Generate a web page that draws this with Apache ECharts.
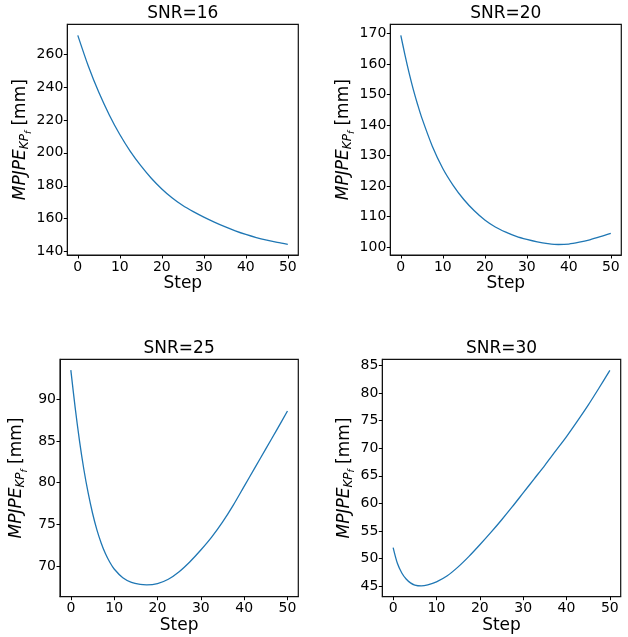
<!DOCTYPE html>
<html><head><meta charset="utf-8">
<script src="https://cdn.jsdelivr.net/npm/echarts@6/dist/echarts.min.js"></script>
<style>html,body{margin:0;padding:0;background:#fff}#c{width:628px;height:637px}</style>
</head><body><div id="c"></div>
<script>
// ---- data ----
const titles = ['SNR=16', 'SNR=20', 'SNR=25', 'SNR=30'];
const xTicks = [0, 10, 20, 30, 40, 50];

const steps16 = [0, 2.5, 5, 7.5, 10, 12.5, 15, 17.5, 20, 22.5, 25, 27.5, 30, 32.5, 35, 37.5, 40, 42.5, 45, 47.5, 50];
const mpjpe16 = [271.3, 252.7, 236.7, 223.0, 211.1, 200.9, 192.2, 184.6, 178.1, 172.6, 168.0, 164.3, 161.0, 158.0, 155.2, 152.7, 150.5, 148.6, 147.0, 145.6, 144.5];
const yTicks16 = [140, 160, 180, 200, 220, 240, 260];

const steps20 = [0, 1, 2, 3, 4, 5, 7.5, 10, 12.5, 15, 17.5, 20, 22.5, 25, 27.5, 30, 32.5, 35, 37.5, 40, 42.5, 45, 47.5, 50];
const mpjpe20 = [169.5, 163.0, 157.0, 151.6, 146.8, 142.4, 133.1, 125.8, 120.2, 115.6, 111.9, 108.9, 106.6, 104.9, 103.5, 102.5, 101.7, 101.15, 100.85, 101.0, 101.6, 102.4, 103.4, 104.5];
const yTicks20 = [100, 110, 120, 130, 140, 150, 160, 170];

const steps25 = [0, 1, 2, 3, 4, 5, 6, 7, 8, 9, 10, 12, 14, 16, 17.5, 20, 22.5, 25, 27.5, 30, 32.5, 35, 37.5, 40, 42.5, 45, 47.5, 50];
const mpjpe25 = [93.5, 89.0, 85.0, 81.6, 78.75, 76.35, 74.35, 72.75, 71.45, 70.43, 69.63, 68.58, 68.02, 67.78, 67.73, 67.88, 68.4, 69.3, 70.5, 71.9, 73.45, 75.25, 77.3, 79.55, 81.8, 84.05, 86.3, 88.6];
const yTicks25 = [70, 75, 80, 85, 90];

const steps30 = [0, 1, 2, 3, 4, 5, 6.5, 8, 10, 12.5, 15, 17.5, 20, 22.5, 25, 27.5, 30, 32.5, 35, 37.5, 40, 42.5, 45, 47.5, 50];
const mpjpe30 = [52.0, 49.1, 47.4, 46.3, 45.6, 45.2, 45.05, 45.25, 45.8, 46.9, 48.5, 50.4, 52.5, 54.7, 57.0, 59.4, 61.9, 64.4, 66.9, 69.5, 72.1, 74.9, 77.8, 80.9, 84.1];
const yTicks30 = [45, 50, 55, 60, 65, 70, 75, 80, 85];

// ---- layout ----
const grids = [
  {left: 67.3, top: 24.3, width: 231, height: 230.7},
  {left: 390.3, top: 24.3, width: 231, height: 230.7},
  {left: 60, top: 359.3, width: 238.3, height: 237.4},
  {left: 382.3, top: 359.3, width: 238.4, height: 237.4}
];
const yRanges = [[138.0, 278.0], [97.4, 173.1], [66.3, 94.8], [43.1, 86.1]];
const nameGaps = [38, 38, 43, 35];
const allSteps = [steps16, steps20, steps25, steps30];
const allVals = [mpjpe16, mpjpe20, mpjpe25, mpjpe30];
const allYTicks = [yTicks16, yTicks20, yTicks25, yTicks30];

const FONT = 'DejaVu Sans';
const BLACK = '#000';

const chart = echarts.init(document.getElementById('c'), null, {renderer: 'canvas'});
const option = {
  backgroundColor: '#fff',
  animation: false,
  title: grids.map((g, i) => ({
    text: titles[i],
    left: g.left + g.width / 2,
    top: g.top - 19.5,
    textAlign: 'center',
    padding: 0,
    textStyle: {fontFamily: FONT, fontSize: 17, fontWeight: 'normal', color: BLACK}
  })),
  grid: grids.map(g => ({
    left: g.left, top: g.top, width: g.width, height: g.height,
    show: true, borderColor: '#111', borderWidth: 1.2, backgroundColor: 'transparent'
  })),
  xAxis: grids.map((g, i) => ({
    gridIndex: i, type: 'value', min: -2.5, max: 52.5,
    name: 'Step', nameLocation: 'middle', nameGap: 19,
    nameTextStyle: {fontFamily: FONT, fontSize: 17, color: BLACK, verticalAlign: 'top'},
    axisLine: {show: true, onZero: false, lineStyle: {color: '#111', width: 1}},
    axisTick: {show: true, length: 3.5, customValues: xTicks, lineStyle: {color: BLACK, width: 1}},
    axisLabel: {show: true, customValues: xTicks, margin: 5, fontFamily: FONT, fontSize: 14, color: BLACK},
    splitLine: {show: false}
  })),
  yAxis: grids.map((g, i) => ({
    gridIndex: i, type: 'value', min: yRanges[i][0], max: yRanges[i][1],
    name: '{a|MPJPE}{b|KP}{c|f}{d| [mm]}',
    nameLocation: 'middle', nameRotate: 90, nameGap: nameGaps[i],
    nameTextStyle: {
      fontFamily: FONT, fontSize: 17, color: BLACK, verticalAlign: 'middle',
      rich: {
        a: {fontFamily: FONT, fontSize: 17, fontStyle: 'italic', color: BLACK},
        b: {fontFamily: FONT, fontSize: 12, fontStyle: 'italic', color: BLACK, padding: [8, 0, 0, 0]},
        c: {fontFamily: FONT, fontSize: 9, fontStyle: 'italic', color: BLACK, padding: [15, 0, 0, 0]},
        d: {fontFamily: FONT, fontSize: 17, color: BLACK}
      }
    },
    axisLine: {show: true, onZero: false, lineStyle: {color: '#111', width: 1}},
    axisTick: {show: true, length: 3.5, customValues: allYTicks[i], lineStyle: {color: BLACK, width: 1}},
    axisLabel: {show: true, customValues: allYTicks[i], margin: 4, fontFamily: FONT, fontSize: 14, color: BLACK},
    splitLine: {show: false}
  })),
  series: grids.map((g, i) => ({
    type: 'line', xAxisIndex: i, yAxisIndex: i,
    data: allSteps[i].map((s, k) => [s, allVals[i][k]]),
    showSymbol: false, smooth: 0.3,
    lineStyle: {color: '#1f77b4', width: 1.3},
    itemStyle: {color: '#1f77b4'}
  }))
};
chart.setOption(option);
</script>
</body></html>
